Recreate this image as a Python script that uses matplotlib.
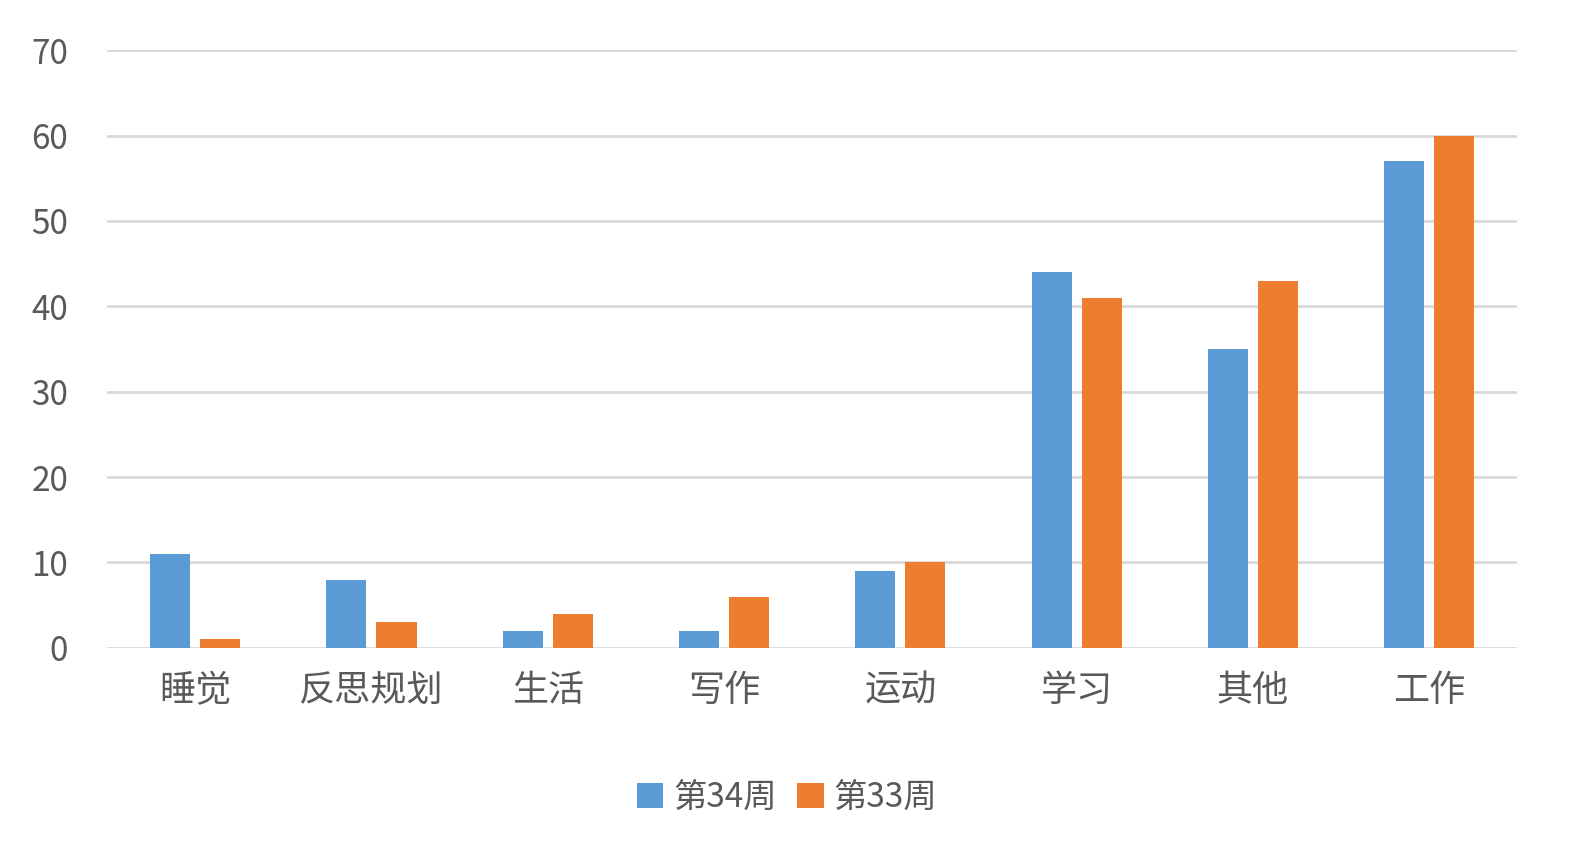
import matplotlib
matplotlib.use("Agg")
import matplotlib.pyplot as plt
import numpy as np

plt.rcParams['font.family'] = ['Noto Sans CJK SC', 'DejaVu Sans']

categories = ["睡觉", "反思规划", "生活", "写作", "运动", "学习", "其他", "工作"]
week34 = [11, 8, 2, 2, 9, 44, 35, 57]
week33 = [1, 3, 4, 6, 10, 41, 43, 60]
series_names = ["第34周", "第33周"]
yticks = [0, 10, 20, 30, 40, 50, 60, 70]

fig = plt.figure(figsize=(15.74, 8.65), dpi=100)
ax = fig.add_axes([0.068, 0.251, 0.896, 0.691])
x = np.arange(len(categories))
w = 0.227
ax.bar(x - 0.142, week34, w, color="#5B9BD5", label=series_names[0], zorder=3)
ax.bar(x + 0.142, week33, w, color="#ED7D31", label=series_names[1], zorder=3)
ax.set_xlim(-0.5, len(categories) - 0.5)
ax.set_ylim(0, 70)
ax.set_yticks(yticks)
ax.yaxis.grid(True, color="#D9D9D9", linewidth=2, zorder=0)
for s in ax.spines.values():
    s.set_visible(False)
ax.tick_params(length=0)
ax.set_xticks(x)
ax.set_xticklabels(categories, fontsize=26, color="#595959")
ax.tick_params(axis='x', pad=18)
ax.tick_params(axis='y', pad=28)
for t in ax.get_yticklabels():
    t.set_fontsize(24); t.set_color("#595959")
fig.legend(loc="center", bbox_to_anchor=(0.5, 0.078), ncol=2, frameon=False,
           fontsize=24, handlelength=0.8, handleheight=0.8, columnspacing=0.6,
           handletextpad=0.3, labelcolor="#595959")
fig.savefig("out.png", dpi=100)
